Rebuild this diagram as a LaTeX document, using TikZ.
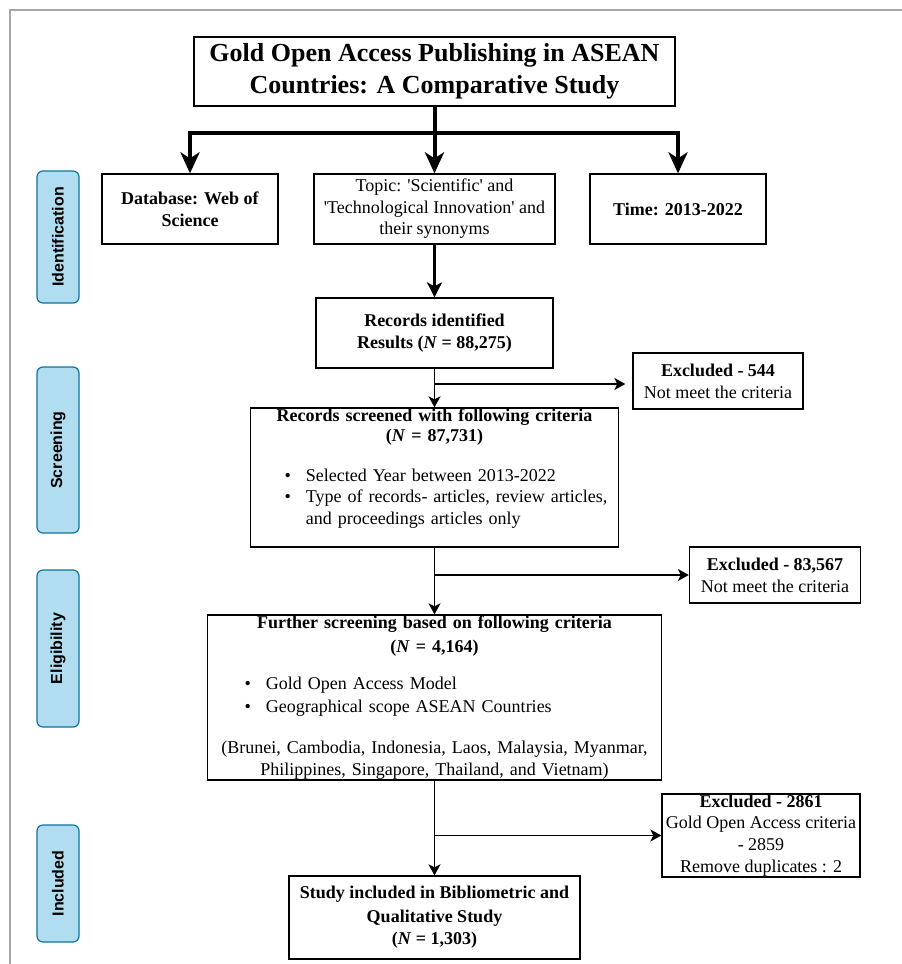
\documentclass[tikz,border=0pt]{standalone}
\usepackage{fontspec}
\setmainfont{Liberation Serif}
\setsansfont{Liberation Sans}
\usetikzlibrary{arrows.meta}

\definecolor{stagefill}{HTML}{B1DDF0}
\definecolor{stageline}{HTML}{10739E}
\definecolor{framegray}{HTML}{A6A6A6}

% bullet lines inside the criteria boxes
\newcommand{\critem}[2]{\makebox[\linewidth][l]{\hspace*{#1}\textbullet\hspace{15pt}#2}}
\newcommand{\critcont}[2]{\makebox[\linewidth][l]{\hspace*{#1}\phantom{\textbullet}\hspace{15pt}#2}}

\tikzset{
  box/.style={draw, line width=1.3pt, inner sep=0pt, align=center,
    font=\fontsize{18}{22}\selectfont},
  stage/.style={draw=stageline, fill=stagefill, line width=1.2pt,
    rounded corners=6pt, rotate=90, minimum height=42pt, inner sep=0pt,
    font=\sffamily\bfseries\fontsize{16}{19}\selectfont},
  flow/.style={line width=1.8pt, -{Stealth[length=11pt,width=12pt,inset=3pt]}},
  mainflow/.style={line width=2.7pt, -{Stealth[length=15pt,width=15pt,inset=4pt]}},
  split/.style={line width=4pt, -{Stealth[length=21pt,width=19pt,inset=6pt]}},
}

\begin{document}
\begin{tikzpicture}[x=1pt,y=-1pt]
  \useasboundingbox (0,0) rectangle (902,964);
  \draw[framegray, line width=2pt] (10,964) -- (10,10) -- (902,10);

  % stages
  \node[stage, minimum width=132pt] (ident) at (58,237) {Identification};
  \node[stage, minimum width=166pt] (screening) at (58,450) {Screening};
  \node[stage, minimum width=157pt] (elig) at (58,648.5) {Eligibility};
  \node[stage, minimum width=117pt] (incl) at (58,883.5) {Included};

  % title and search terms
  \node[box, minimum width=481pt, minimum height=69pt,
    font=\bfseries\fontsize{26}{32}\selectfont] (title) at (434.5,71.5)
    {Gold Open Access Publishing in ASEAN\\Countries: A Comparative Study};
  \node[box, minimum width=176pt, minimum height=70pt] (db) at (190,209)
    {\textbf{Database: Web of}\\\textbf{Science}};
  \node[box, minimum width=241pt, minimum height=70pt,
    font=\fontsize{18}{21.5}\selectfont] (topic) at (434.5,209)
    {Topic: \textquotesingle Scientific\textquotesingle{} and\\
     \textquotesingle Technological Innovation\textquotesingle{} and\\
     their synonyms};
  \node[box, minimum width=176pt, minimum height=70pt] (time) at (678,209)
    {\textbf{Time: 2013-2022}};

  \coordinate (hub) at (434.5,133);
  \draw[line width=4pt] (title.south) -- (hub);
  \draw[split] (hub) -| (db.north);
  \draw[split] (hub) -| (time.north);
  \draw[split] (hub) -- (topic.north);

  % records
  \node[box, minimum width=237pt, minimum height=70pt] (rec) at (434.5,333)
    {\textbf{Records identified}\\\textbf{Results (\textit{N} = 88,275)}};
  \node[box, minimum width=170pt, minimum height=56pt] (ex1) at (718,381)
    {\textbf{Excluded - 544}\\Not meet the criteria};
  \node[box, text width=360pt, minimum width=368pt, minimum height=139pt]
    (screen) at (434.5,477.5)
    {\textbf{Records screened with following criteria}\\[-2pt]
     \textbf{(\textit{N} = 87,731)}\\[18pt]
     \critem{30pt}{Selected Year between 2013-2022}\\[-1pt]
     \critem{30pt}{Type of records- articles, review articles,}\\
     \critcont{30pt}{and proceedings articles only\rule[-22pt]{0pt}{1pt}}};
  \node[box, minimum width=171pt, minimum height=56pt] (ex2) at (775,575)
    {\textbf{Excluded - 83,567}\\Not meet the criteria};
  \node[box, text width=446pt, minimum width=454pt, minimum height=165pt]
    (further) at (434.5,697.5)
    {\textbf{Further screening based on following criteria}\\[2pt]
     \textbf{(\textit{N} = 4,164)}\\[15pt]
     \critem{33pt}{Gold Open Access Model}\\[1pt]
     \critem{33pt}{Geographical scope ASEAN Countries}\\[19pt]
     (Brunei, Cambodia, Indonesia, Laos, Malaysia, Myanmar,\\
     Philippines, Singapore, Thailand, and Vietnam)};
  \node[box, minimum width=198pt, minimum height=83pt,
    font=\fontsize{18}{21.7}\selectfont] (ex3) at (761,835.5)
    {\textbf{Excluded - 2861}\\Gold Open Access criteria\\- 2859\\Remove duplicates : 2};
  \node[box, minimum width=291pt, minimum height=83pt] (study) at (434.5,917.5)
    {\textbf{Study included in Bibliometric and}\\[2pt]
     \textbf{Qualitative Study}\\
     \textbf{(\textit{N} = 1,303)}};

  % flow
  \draw[mainflow] (topic.south) -- (rec.north);
  \draw[flow] (rec.south) -- (screen.north);
  \coordinate (b1) at (434.5,384);
  \draw[flow, shorten >=7pt] (b1) -- (b1 -| ex1.west);
  \draw[flow] (screen.south) -- (further.north);
  \draw[flow] (screen.south |- ex2.west) -- (ex2.west);
  \draw[flow] (further.south) -- (study.north);
  \draw[flow] (further.south |- ex3.west) -- (ex3.west);
\end{tikzpicture}
\end{document}
